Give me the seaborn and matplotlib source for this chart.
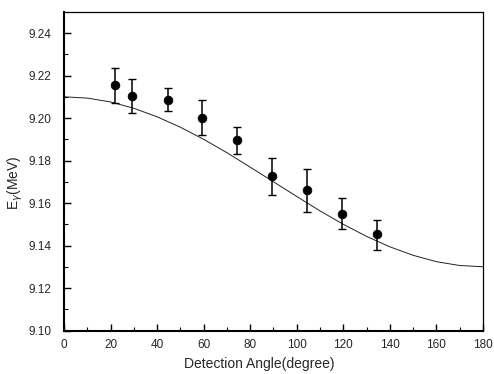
import numpy as np
import pandas as pd
import seaborn as sns
import matplotlib.pyplot as plt
from matplotlib.ticker import MultipleLocator

# measured points
angles = [22, 29, 44.5, 59.5, 74.5, 89.5, 104.5, 119.5, 134.5]
energy = [9.2154, 9.2104, 9.2085, 9.2001, 9.1896, 9.1727, 9.1661, 9.1550, 9.1453]
err_low = [9.2072, 9.2022, 9.2034, 9.1920, 9.1830, 9.1638, 9.1556, 9.1478, 9.1379]
err_high = [9.2234, 9.2182, 9.2140, 9.2083, 9.1960, 9.1812, 9.1762, 9.1625, 9.1520]

curve_angle = [0, 10, 20, 30, 40, 50, 60, 70, 80, 90,
               100, 110, 120, 130, 140, 150, 160, 170, 180]
curve_energy = [9.2100, 9.2094, 9.2076, 9.2046, 9.2006, 9.1957, 9.1900, 9.1837,
                9.1769, 9.1700, 9.1631, 9.1563, 9.1500, 9.1443, 9.1394, 9.1354,
                9.1324, 9.1306, 9.1300]

sns.set_style("ticks")
plt.rcParams['font.family'] = ['Liberation Sans', 'DejaVu Sans']

pts = pd.DataFrame({"angle": angles, "E": energy})
fit = pd.DataFrame({"angle": curve_angle, "E": curve_energy})

fig = plt.figure(figsize=(4.94, 3.74), dpi=100)
ax = fig.add_axes([0.1296, 0.1163, 0.848, 0.852])

sns.lineplot(data=fit, x="angle", y="E", ax=ax, color="#222222", linewidth=0.7)
yerr = np.array([np.array(energy) - np.array(err_low),
                 np.array(err_high) - np.array(energy)])
ax.errorbar(angles, energy, yerr=yerr, fmt="none", ecolor="black",
            elinewidth=1.1, capsize=3, capthick=1.0)
sns.scatterplot(data=pts, x="angle", y="E", ax=ax, color="black",
                s=40, edgecolor="black", zorder=3)

ax.set_xlim(0, 180)
ax.set_ylim(9.10, 9.25)
ax.xaxis.set_major_locator(MultipleLocator(20))
ax.xaxis.set_minor_locator(MultipleLocator(10))
ax.yaxis.set_minor_locator(MultipleLocator(0.01))
ax.set_yticks(np.arange(9.10, 9.241, 0.02))
ax.set_yticklabels([f"{v:.2f}" for v in np.arange(9.10, 9.241, 0.02)])
ax.tick_params(which="both", direction="in", top=False, right=False,
               labelsize=8.5, color="black")
ax.tick_params(which="major", length=5, width=1.0)
ax.tick_params(which="minor", length=3, width=0.8)
ax.tick_params(axis="y", which="major", pad=9)
ax.tick_params(axis="x", which="major", pad=6)

for side in ["left", "bottom"]:
    ax.spines[side].set_linewidth(1.5)
    ax.spines[side].set_color("black")
for side in ["top", "right"]:
    ax.spines[side].set_visible(True)
    ax.spines[side].set_linewidth(0.9)
    ax.spines[side].set_color("black")

ax.set_xlabel("Detection Angle(degree)", fontsize=10)
ax.set_ylabel(r"E$_\gamma$(MeV)", fontsize=10)
ax.xaxis.set_label_coords(0.465, -0.083)
ax.yaxis.set_label_coords(-0.094, 0.463)

fig.savefig("out.png", dpi=100)
